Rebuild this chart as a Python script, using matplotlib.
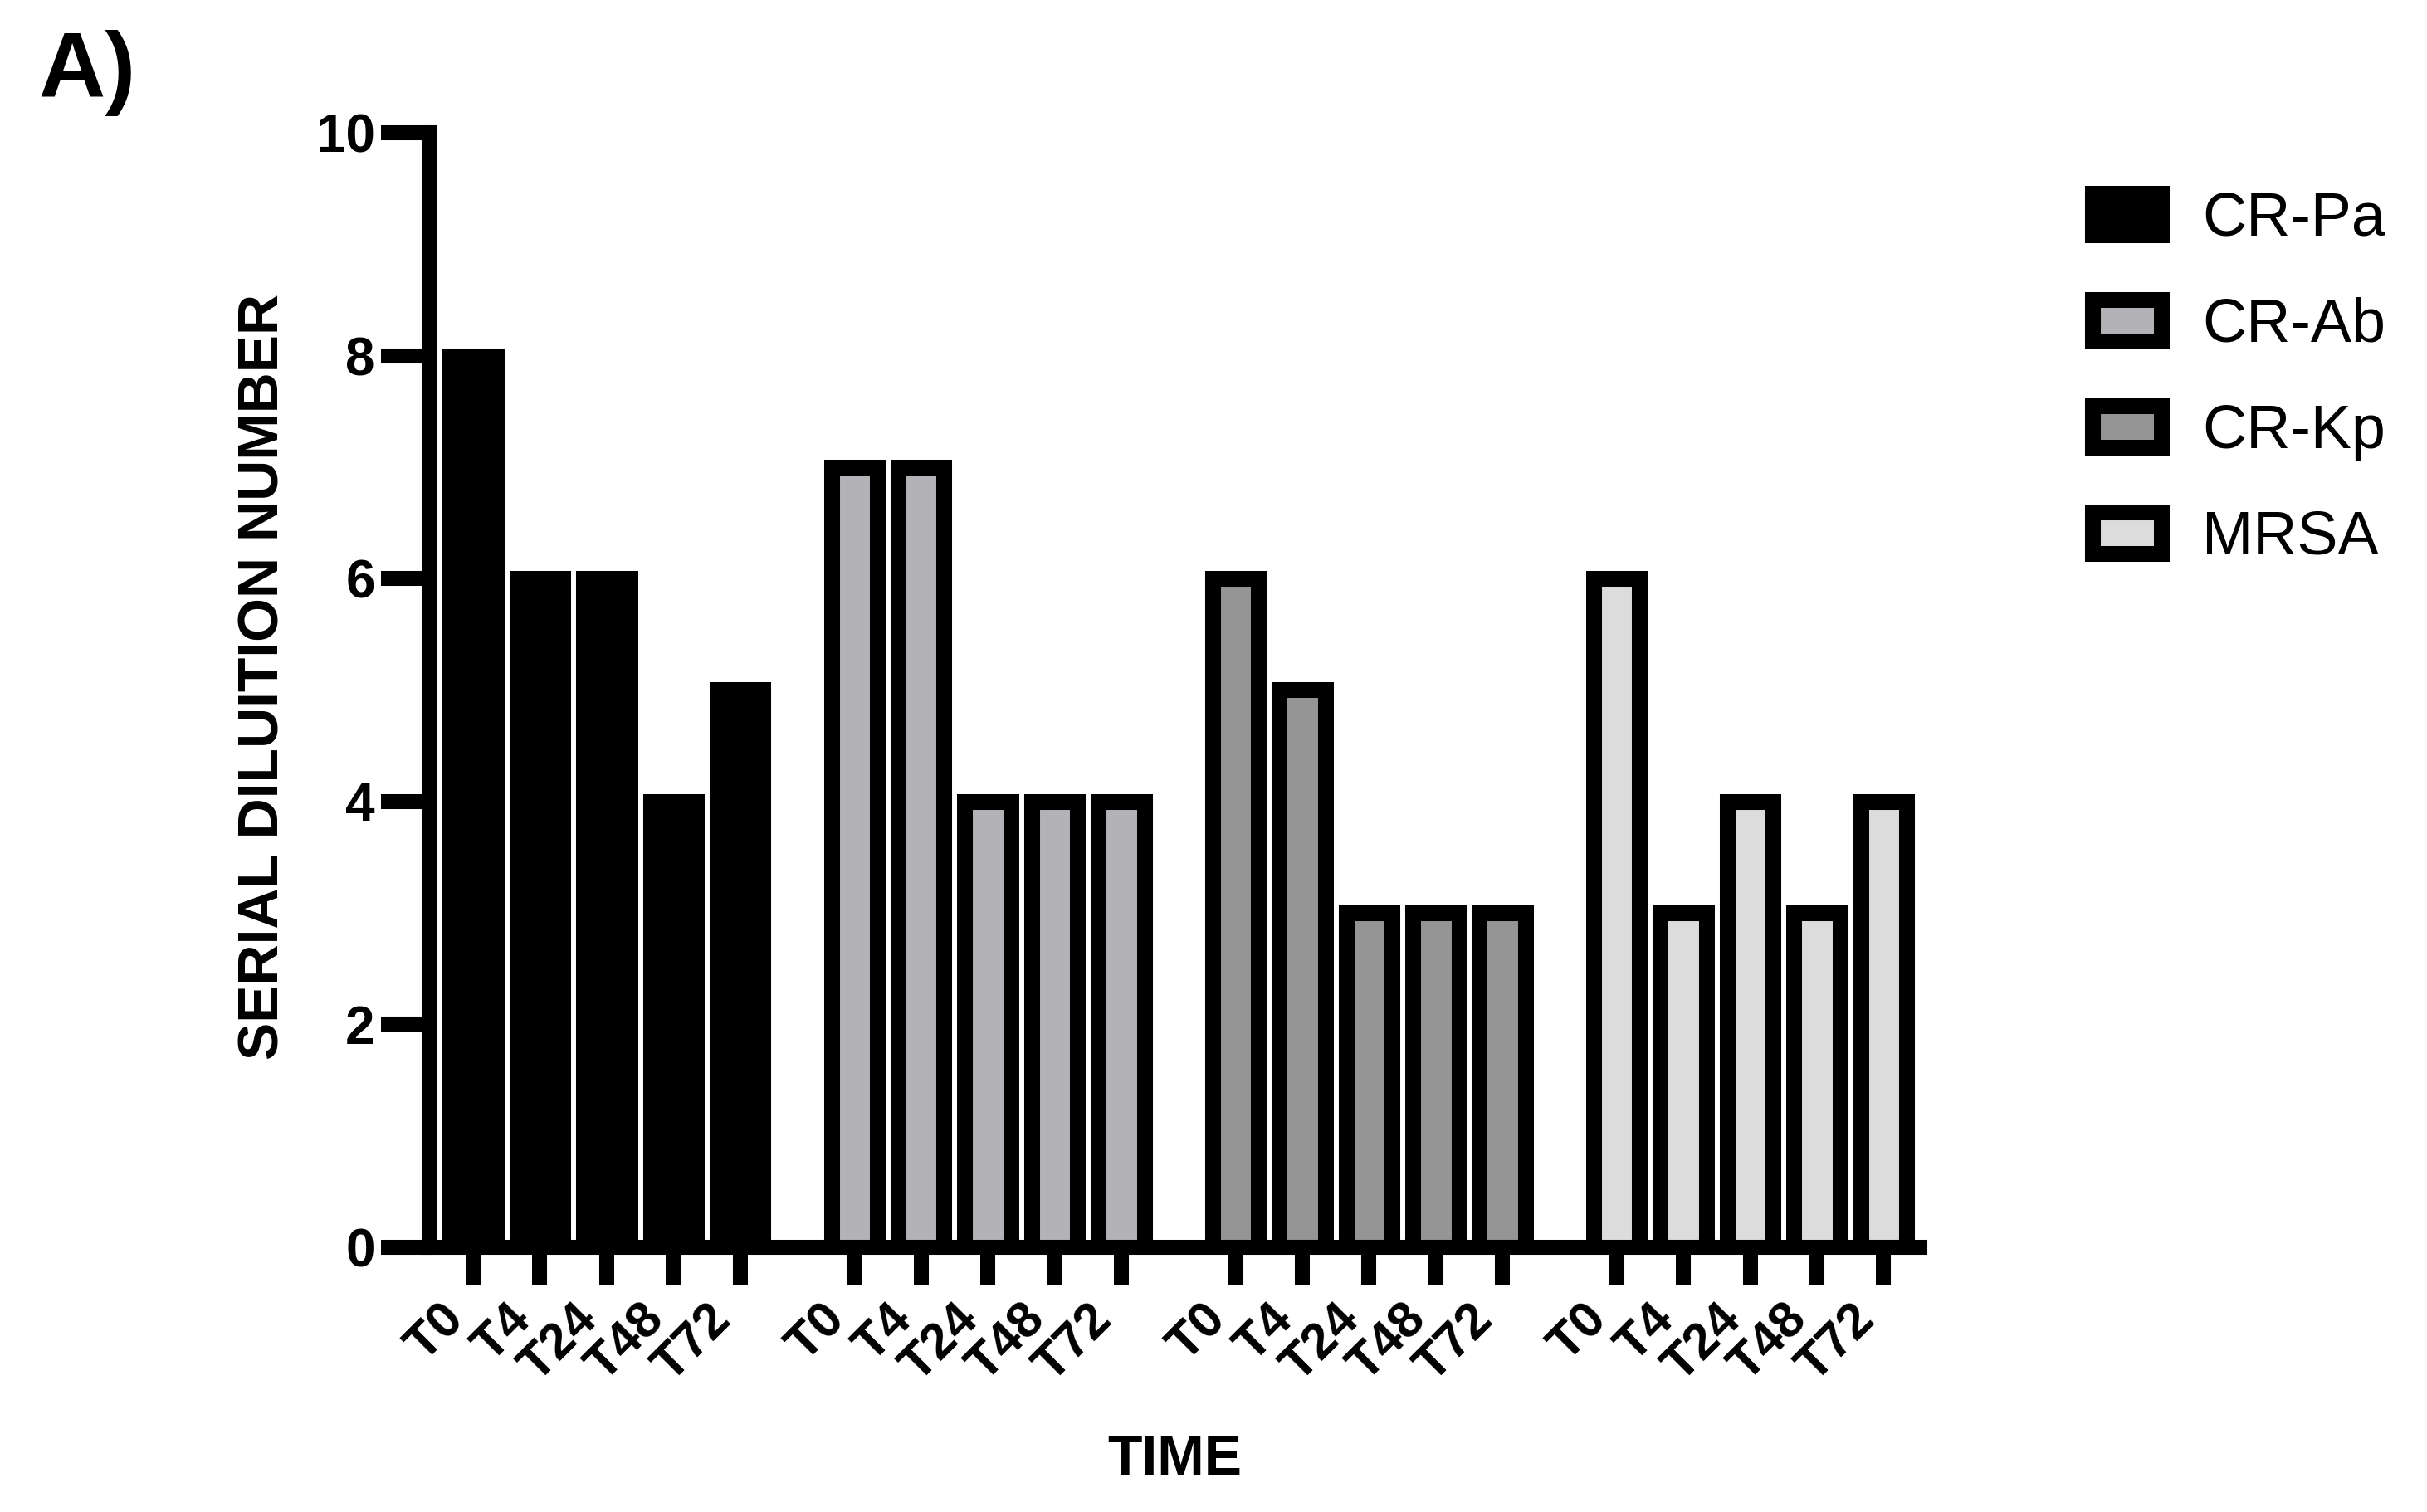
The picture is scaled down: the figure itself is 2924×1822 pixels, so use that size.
import matplotlib
matplotlib.use('Agg')
import matplotlib.pyplot as plt
import numpy as np

plt.rcParams['font.family'] = ['Liberation Sans', 'DejaVu Sans']

# data
strains = ['CR-Pa', 'CR-Ab', 'CR-Kp', 'MRSA']
times = ['T0', 'T4', 'T24', 'T48', 'T72']
cr_pa = [8, 6, 6, 4, 5]
cr_ab = [7, 7, 4, 4, 4]
cr_kp = [6, 5, 3, 3, 3]
mrsa = [6, 3, 4, 3, 4]
colors = ['#000000', '#b3b2b7', '#959595', '#dcdcdc']

series = [cr_pa, cr_ab, cr_kp, mrsa]
group_step = 5.71

fig = plt.figure(figsize=(29.24, 18.22), dpi=100)
ax = fig.add_axes([0.1768, 0.1751, 0.6142, 0.7371])

lw = 13.0
all_x = []
handles = []
for g, (vals, col, name) in enumerate(zip(series, colors, strains)):
    x = g * group_step + np.arange(len(times))
    all_x.extend(x)
    b = ax.bar(x, vals, width=0.69, color=col, edgecolor='black', linewidth=13.7, label=name)
    handles.append(b)

ax.set_xlim(-0.66, 21.67)
ax.set_ylim(0, 10)
ax.set_yticks([0, 2, 4, 6, 8, 10])

for s in ['top', 'right']:
    ax.spines[s].set_visible(False)
for s in ['left', 'bottom']:
    ax.spines[s].set_linewidth(lw)

ax.tick_params(axis='y', length=42, width=lw, pad=5, labelsize=46)
ax.tick_params(axis='x', length=33, width=lw, pad=9, labelsize=44)
ax.set_xticks(all_x)
ax.set_xticklabels(times * len(strains), rotation=45, ha='right', fontweight='bold')
for t in ax.get_yticklabels():
    t.set_fontweight('bold')

ax.set_ylabel('SERIAL DILUITION NUMBER', fontsize=49, fontweight='bold')
ax.yaxis.set_label_coords(-0.093, 0.512)
ax.set_xlabel('TIME', fontsize=49, fontweight='bold')
ax.xaxis.set_label_coords(0.5, -0.167)

ax.legend(handles=handles, loc='upper left', bbox_to_anchor=(0.8622, 0.8738),
          bbox_transform=fig.transFigure, frameon=False, fontsize=53,
          borderpad=0, borderaxespad=0, handlelength=1.13, handleheight=0.68,
          handletextpad=0.66, labelspacing=0.8)

fig.text(46 / 2924, 1 - 36 / 1822, 'A)', fontsize=80, fontweight='bold', ha='left', va='top')

fig.savefig('out.png', dpi=100)
